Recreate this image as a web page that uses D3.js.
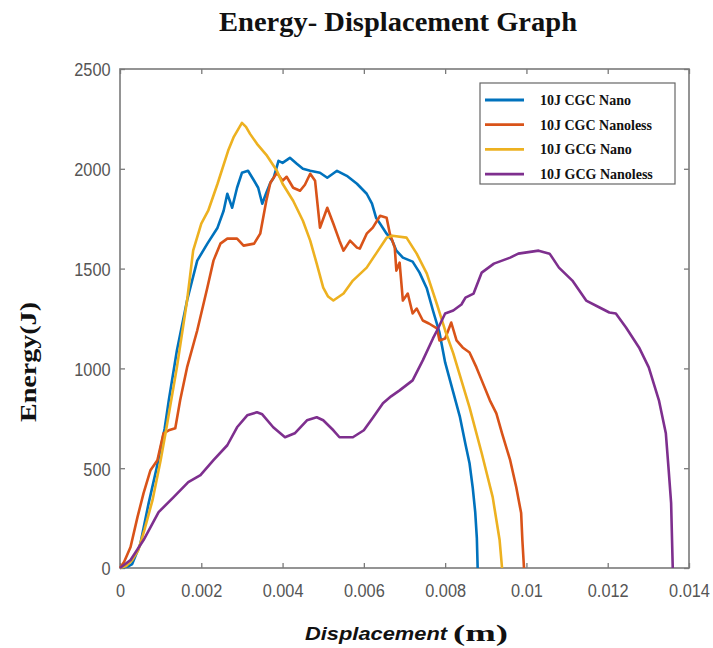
<!DOCTYPE html>
<html><head><meta charset="utf-8">
<script src="https://cdn.jsdelivr.net/npm/d3@7"></script>
<style>body{margin:0;background:#fff;}svg{display:block;}</style>
</head><body><div id="chart"></div>
<script>
const seriesNames = ["10J CGC Nano","10J CGC Nanoless","10J GCG Nano","10J GCG Nanoless"];
const seriesColors = ["#0072BD","#D95319","#EDB120","#7E2F8E"];
const xTicks = [0,0.002,0.004,0.006,0.008,0.01,0.012,0.014];
const yTicks = [0,500,1000,1500,2000,2500];

const cgcNano = [[0,0],[0.0002,8],[0.0003,20],[0.0005,120],[0.0007,320],[0.0009,500],[0.0011,700],[0.0012,840],[0.0014,1090],[0.00165,1340],[0.0019,1540],[0.00215,1625],[0.0024,1705],[0.00255,1790],[0.00264,1875],[0.00276,1805],[0.00288,1905],[0.003,1980],[0.00315,1990],[0.0033,1940],[0.0034,1905],[0.0035,1825],[0.0036,1880],[0.0037,1930],[0.00378,1955],[0.0039,2040],[0.004,2030],[0.00418,2055],[0.00435,2025],[0.0045,2000],[0.00468,1990],[0.00492,1980],[0.0051,1955],[0.00534,1990],[0.00558,1965],[0.00583,1925],[0.00607,1875],[0.0062,1825],[0.0063,1755],[0.0064,1725],[0.00656,1675],[0.0067,1640],[0.0068,1590],[0.00696,1555],[0.0072,1535],[0.00737,1480],[0.00755,1400],[0.0077,1290],[0.00786,1180],[0.008,1030],[0.0082,880],[0.00836,760],[0.0085,620],[0.0086,525],[0.00868,400],[0.00874,280],[0.00878,150],[0.0088,0]];
const cgcNanoless = [[0,0],[0.0001,30],[0.00026,105],[0.00043,255],[0.00058,375],[0.00075,490],[0.00092,540],[0.00107,675],[0.0012,690],[0.00136,700],[0.00148,840],[0.00165,1005],[0.0019,1190],[0.00215,1405],[0.0023,1540],[0.00247,1625],[0.00264,1650],[0.00288,1650],[0.00304,1615],[0.0033,1625],[0.00345,1675],[0.0036,1840],[0.0037,1930],[0.00386,1980],[0.004,1940],[0.0041,1960],[0.00426,1905],[0.00443,1890],[0.00455,1920],[0.00468,1975],[0.0048,1940],[0.00492,1705],[0.0051,1805],[0.00525,1725],[0.0054,1640],[0.0055,1590],[0.00566,1640],[0.00583,1605],[0.0059,1600],[0.00607,1675],[0.00622,1705],[0.0064,1765],[0.00656,1755],[0.00664,1675],[0.00676,1605],[0.0068,1490],[0.00688,1530],[0.00696,1340],[0.00708,1375],[0.0072,1275],[0.0073,1300],[0.00745,1240],[0.0076,1225],[0.0078,1200],[0.00786,1140],[0.008,1150],[0.00815,1230],[0.00828,1140],[0.00843,1105],[0.0086,1080],[0.00877,1005],[0.0089,940],[0.0091,840],[0.00926,775],[0.0094,675],[0.0096,540],[0.00975,405],[0.00987,275],[0.0099,140],[0.00994,0]];
const gcgNano = [[0,0],[0.00015,10],[0.0003,40],[0.00045,90],[0.0006,190],[0.0008,340],[0.001,540],[0.00112,675],[0.0014,1005],[0.00165,1340],[0.0018,1590],[0.002,1725],[0.00217,1790],[0.0024,1925],[0.00266,2090],[0.0028,2160],[0.003,2230],[0.0031,2210],[0.0032,2175],[0.00337,2125],[0.0036,2070],[0.00386,1990],[0.004,1925],[0.00426,1840],[0.0045,1740],[0.00468,1640],[0.00484,1525],[0.005,1405],[0.00512,1360],[0.00525,1340],[0.0055,1375],[0.00573,1440],[0.00607,1505],[0.0063,1575],[0.00656,1655],[0.0067,1665],[0.00705,1655],[0.0073,1575],[0.00755,1475],[0.0078,1320],[0.008,1190],[0.0082,1075],[0.0086,805],[0.0089,575],[0.00917,355],[0.00934,140],[0.0094,0]];
const gcgNanoless = [[0,0],[0.00026,40],[0.00058,140],[0.00095,280],[0.00132,355],[0.00168,430],[0.00198,465],[0.0023,540],[0.00264,615],[0.00288,705],[0.00313,765],[0.00337,780],[0.0035,770],[0.00377,705],[0.00406,655],[0.0043,675],[0.0046,740],[0.00484,755],[0.005,740],[0.00525,690],[0.0054,655],[0.00573,655],[0.006,690],[0.00623,755],[0.00647,825],[0.00667,860],[0.00688,890],[0.0072,940],[0.00745,1040],[0.0077,1150],[0.0078,1190],[0.008,1275],[0.0082,1290],[0.0084,1320],[0.0085,1355],[0.0087,1375],[0.0089,1480],[0.0092,1525],[0.0096,1555],[0.0098,1575],[0.0103,1590],[0.01057,1575],[0.0108,1505],[0.01113,1440],[0.01147,1340],[0.0118,1305],[0.01204,1280],[0.0122,1275],[0.01245,1205],[0.01277,1105],[0.01301,1005],[0.01326,840],[0.01343,675],[0.0135,490],[0.01356,325],[0.0136,0]];
const allSeries = [cgcNano, cgcNanoless, gcgNano, gcgNanoless];

const W = 713, H = 648;
const m = {left:120, right:24, top:69, bottom:80};
const svg = d3.select("#chart").append("svg").attr("width",W).attr("height",H);
const x = d3.scaleLinear().domain([0,0.014]).range([m.left, W-m.right]);
const y = d3.scaleLinear().domain([0,2500]).range([H-m.bottom, m.top]);

// title
svg.append("text").attr("x",398).attr("y",31).attr("text-anchor","middle")
  .attr("font-family","Liberation Serif, Times New Roman, serif").attr("font-weight","bold")
  .attr("font-size",27).attr("textLength",358).attr("lengthAdjust","spacingAndGlyphs")
  .attr("fill","#111").text("Energy- Displacement Graph");

const tickColor = "#555";
const frameColor = "#7a7a7a";

// axes
const xAxis = svg.append("g").attr("transform",`translate(0,${y(0)})`)
  .call(d3.axisBottom(x).tickValues(xTicks).tickSize(-5).tickSizeOuter(0).tickFormat(d=>String(+d.toFixed(3))));
const yAxis = svg.append("g").attr("transform",`translate(${x(0)},0)`)
  .call(d3.axisLeft(y).tickValues(yTicks).tickSize(-5).tickSizeOuter(0).tickFormat(d3.format("d")));
const xTop = svg.append("g").attr("transform",`translate(0,${y(2500)})`)
  .call(d3.axisTop(x).tickValues(xTicks).tickSize(-5).tickSizeOuter(0).tickFormat(""));
const yRight = svg.append("g").attr("transform",`translate(${x(0.014)},0)`)
  .call(d3.axisRight(y).tickValues(yTicks).tickSize(-5).tickSizeOuter(0).tickFormat(""));
[xAxis,yAxis,xTop,yRight].forEach(g=>{
  g.select(".domain").remove();
  g.selectAll(".tick line").attr("stroke",frameColor).attr("stroke-width",1.3);
});
xAxis.selectAll(".tick text").attr("y",16).attr("dy","0.71em")
  .attr("font-family","Liberation Sans, Arial, sans-serif").attr("font-size",19)
  .attr("fill",tickColor).attr("transform","scale(0.86,1)");
yAxis.selectAll(".tick text").attr("x",-11).attr("dy","0.36em")
  .attr("font-family","Liberation Sans, Arial, sans-serif").attr("font-size",19)
  .attr("fill",tickColor).attr("transform","scale(0.86,1)");

// frame
svg.append("rect").attr("x",x(0)).attr("y",y(2500)).attr("width",x(0.014)-x(0)).attr("height",y(0)-y(2500))
  .attr("fill","none").attr("stroke",frameColor).attr("stroke-width",1.6);

// lines
const line = d3.line().x(d=>x(d[0])).y(d=>y(d[1]));
svg.append("clipPath").attr("id","clip").append("rect")
  .attr("x",x(0)-2).attr("y",y(2500)).attr("width",x(0.014)-x(0)+4).attr("height",y(0)-y(2500)+2);
allSeries.forEach((s,i)=>{
  svg.append("path").datum(s).attr("d",line).attr("fill","none")
    .attr("stroke",seriesColors[i]).attr("stroke-width",2.6).attr("stroke-linejoin","round")
    .attr("clip-path","url(#clip)");
});

// legend
const lg = svg.append("g");
lg.append("rect").attr("x",480).attr("y",83).attr("width",195).attr("height",101)
  .attr("fill","#fff").attr("stroke","#666").attr("stroke-width",1.2);
seriesNames.forEach((n,i)=>{
  const yy = 100 + i*24.7;
  lg.append("line").attr("x1",485).attr("x2",524).attr("y1",yy).attr("y2",yy)
    .attr("stroke",seriesColors[i]).attr("stroke-width",2.8);
  lg.append("text").attr("x",540).attr("y",yy+5)
    .attr("font-family","Liberation Serif, Times New Roman, serif").attr("font-weight","bold")
    .attr("font-size",14).attr("fill","#111").text(n);
});

// y label
svg.append("text").attr("transform","translate(36,362) rotate(-90)").attr("text-anchor","middle")
  .attr("font-family","Liberation Serif, Times New Roman, serif").attr("font-weight","bold")
  .attr("font-size",23).attr("textLength",120).attr("lengthAdjust","spacingAndGlyphs")
  .attr("fill","#111").text("Energy(J)");

// x label
svg.append("text").attr("x",305).attr("y",640)
  .attr("font-family","Liberation Sans, Arial, sans-serif").attr("font-weight","bold").attr("font-style","italic")
  .attr("font-size",19).attr("textLength",142).attr("lengthAdjust","spacingAndGlyphs")
  .attr("fill","#111").text("Displacement");
svg.append("text").attr("x",453).attr("y",641)
  .attr("font-family","Liberation Serif, Times New Roman, serif").attr("font-weight","bold")
  .attr("font-size",24).attr("textLength",55).attr("lengthAdjust","spacingAndGlyphs")
  .attr("fill","#111").text("(m)");
</script></body></html>
